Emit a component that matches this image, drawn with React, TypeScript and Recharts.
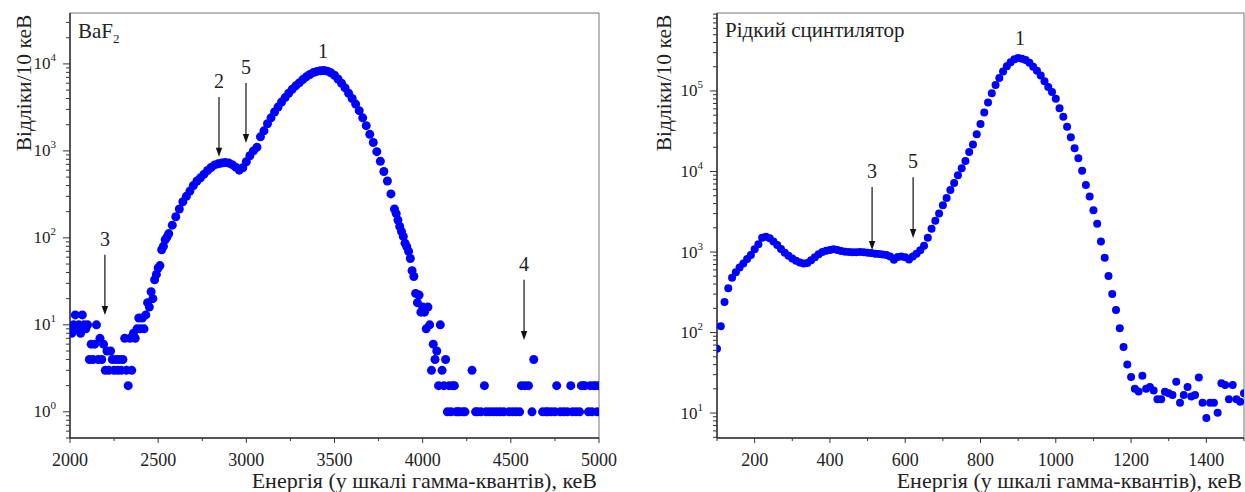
import React from 'react';
import {
  ScatterChart,
  Scatter,
  XAxis,
  YAxis,
  ReferenceLine,
  ReferenceDot,
  ReferenceArea,
} from 'recharts';

const FONT = "'Liberation Serif', 'DejaVu Serif', 'Noto Serif', serif";

// ---------------- BaF2 spectrum (energy keV, counts / 10 keV) ----------------
const bafLow: [number, number][] = [
  [2000, 9], [2010, 8], [2020, 10], [2030, 13], [2040, 9], [2050, 10], [2060, 8], [2070, 13],
  [2080, 10], [2090, 9], [2100, 10], [2110, 4], [2120, 6], [2130, 4], [2140, 6], [2150, 10],
  [2160, 4], [2170, 7], [2180, 4], [2190, 6], [2200, 3], [2210, 5], [2220, 3], [2230, 5],
  [2240, 4], [2250, 3], [2260, 4], [2270, 3], [2280, 4], [2290, 3], [2300, 4], [2310, 7],
  [2320, 3], [2330, 2], [2340, 7], [2350, 3], [2360, 8], [2370, 7], [2380, 9], [2390, 12],
  [2400, 9], [2410, 12], [2420, 9], [2430, 13], [2440, 18], [2450, 16], [2460, 24], [2470, 20],
  [2480, 33], [2490, 38], [2500, 45], [2510, 48], [2520, 73], [2530, 80], [2540, 95], [2550, 102],
];

const bafMain: [number, number][] = [
  [2560, 112], [2580, 140], [2600, 175], [2620, 215], [2640, 260], [2660, 300], [2680, 345],
  [2700, 400], [2720, 450], [2740, 490], [2760, 540], [2780, 595], [2800, 645], [2820, 690],
  [2840, 710], [2860, 725], [2880, 735], [2900, 725], [2920, 695], [2940, 650], [2960, 600],
  [2980, 640], [3000, 750], [3020, 880], [3040, 1000], [3060, 1100], [3080, 1450], [3100, 1700],
  [3120, 2050], [3140, 2400], [3160, 2800], [3180, 3200], [3200, 3650], [3220, 4100], [3240, 4600],
  [3260, 5100], [3280, 5600], [3300, 6050], [3320, 6600], [3340, 7100], [3360, 7550], [3380, 7950],
  [3400, 8200], [3420, 8350], [3440, 8400], [3460, 8250], [3480, 7900], [3500, 7400], [3520, 6700],
  [3540, 6000], [3560, 5300], [3580, 4600], [3600, 4000], [3620, 3450], [3640, 2900], [3660, 2400],
  [3680, 1950], [3700, 1550], [3720, 1250], [3740, 980], [3760, 760], [3780, 580], [3800, 450],
  [3820, 320], [3840, 215],
];

const bafTail: [number, number][] = [
  [3850, 190], [3860, 160], [3870, 135], [3880, 118], [3890, 104], [3900, 87], [3910, 79],
  [3920, 70], [3930, 58], [3940, 42], [3950, 36], [3960, 23], [3970, 18], [3980, 22], [3990, 14],
  [4000, 16], [4010, 14], [4020, 9], [4030, 16], [4040, 10], [4050, 3], [4060, 6], [4070, 4],
  [4080, 5], [4090, 2], [4100, 10], [4110, 3], [4120, 2], [4130, 4], [4140, 1], [4150, 2],
  [4160, 1], [4170, 2], [4180, 2], [4190, 1], [4200, 1], [4210, 1], [4230, 1], [4240, 1],
  [4280, 3], [4300, 1], [4310, 1], [4330, 1], [4350, 2], [4360, 1], [4380, 1], [4400, 1],
  [4420, 1], [4440, 1], [4460, 1], [4490, 1], [4510, 1], [4530, 1], [4550, 1], [4560, 2],
  [4580, 2], [4600, 2], [4620, 1], [4630, 4], [4680, 1], [4700, 1], [4710, 1], [4730, 1],
  [4750, 1], [4760, 2], [4780, 1], [4800, 1], [4820, 1], [4840, 2], [4850, 1], [4870, 1],
  [4890, 1], [4900, 2], [4910, 2], [4920, 2], [4940, 1], [4950, 2], [4960, 1], [4970, 2],
  [4980, 2], [4990, 1], [5000, 2],
];

// ---------------- Liquid scintillator spectrum ----------------
const lsContinuum: [number, number][] = [
  [100, 63], [110, 120], [120, 240], [130, 355], [140, 480], [150, 560], [160, 640], [170, 720],
  [180, 820], [190, 920], [200, 1080], [210, 1250], [220, 1500], [230, 1550], [240, 1480],
  [250, 1350], [260, 1220], [270, 1090], [280, 980], [290, 900], [300, 830], [310, 780],
  [320, 740], [330, 720], [340, 730], [350, 790], [360, 860], [370, 940], [380, 1000],
  [390, 1040], [400, 1060], [410, 1080], [420, 1060], [430, 1030], [440, 1010], [450, 1000],
  [460, 990], [470, 990], [480, 1000], [490, 990], [500, 980], [510, 970], [520, 950],
  [530, 945], [540, 930], [550, 920], [560, 880], [570, 800], [580, 870], [590, 880],
  [600, 860], [610, 810], [620, 880], [630, 950], [640, 1050], [650, 1200],
];

const lsPeak: [number, number][] = [
  [660, 1500], [670, 1950], [680, 2450], [690, 3000], [700, 3800], [710, 4700], [720, 5900],
  [730, 7200], [740, 9000], [750, 11000], [760, 13500], [770, 17500], [780, 21700], [790, 29000],
  [800, 39000], [810, 54000], [820, 72000], [830, 94000], [840, 119000], [850, 145000],
  [860, 175000], [870, 203000], [880, 228000], [890, 247000], [900, 256000], [910, 252000],
  [920, 242000], [930, 224000], [940, 200000], [950, 178000], [960, 156000], [970, 132000],
  [980, 112000], [990, 97000], [1000, 80000], [1010, 61000], [1020, 48000], [1030, 36000],
  [1040, 26600], [1050, 19500], [1060, 14600], [1070, 10200], [1080, 6800], [1090, 4900],
  [1100, 3300], [1110, 2250], [1120, 1350], [1130, 850], [1140, 505], [1150, 300], [1160, 190],
  [1170, 113], [1180, 66], [1190, 40], [1200, 28],
];

const lsTail: [number, number][] = [
  [1210, 20], [1220, 18.5], [1230, 29], [1240, 20], [1250, 21], [1260, 19], [1270, 14.8],
  [1280, 14.8], [1290, 18.4], [1300, 17.6], [1310, 16.7], [1320, 24.5], [1330, 13.4],
  [1340, 16.7], [1350, 21], [1360, 16], [1370, 16.7], [1380, 27.7], [1390, 13.4], [1400, 8.7],
  [1410, 13.4], [1420, 13.4], [1430, 10.1], [1440, 23.5], [1450, 22.3], [1460, 14.8],
  [1470, 22.3], [1480, 14.8], [1490, 13.8], [1500, 17.6],
];

// ---------------- axes ----------------
const bafXTicks = [2000, 2250, 2500, 2750, 3000, 3250, 3500, 3750, 4000, 4250, 4500, 4750, 5000];
const lsXTicks = [100, 200, 300, 400, 500, 600, 700, 800, 900, 1000, 1100, 1200, 1300, 1400, 1500];
const bafYDecades = [0.1, 1, 10, 100, 1000, 10000];
const lsYDecades = [1, 10, 100, 1000, 10000, 100000];
const minorMultipliers = [1, 2, 3, 4, 5, 6, 7, 8, 9];
const bafYDomain: [number, number] = [0.5, 38500];
const lsYDomain: [number, number] = [4.9, 930000];

const buildLogTicks = (decades: number[], domain: [number, number]) => {
  const out: number[] = [];
  decades.forEach((d) => minorMultipliers.forEach((m) => {
    const v = Number((d * m).toPrecision(6));
    if (v >= domain[0] && v <= domain[1]) out.push(v);
  }));
  return out;
};

// ---------------- annotations ----------------
const bafArrows = [
  { label: '3', x: 2198, top: 64, tip: 13 },
  { label: '2', x: 2845, top: 4170, tip: 855 },
  { label: '5', x: 2998, top: 6050, tip: 1235 },
  { label: '4', x: 4575, top: 33, tip: 6.7 },
];
const bafPeakLabels = [{ label: '1', x: 3435, y: 11700 }];
const lsArrows = [
  { label: '3', x: 512, top: 6410, tip: 1060 },
  { label: '5', x: 621, top: 8500, tip: 1490 },
];
const lsPeakLabels = [{ label: '1', x: 905, y: 372000 }];

const toPts = (arr: [number, number][]) => arr.map(([x, y]) => ({ x, y }));
const bafData = [...toPts(bafLow), ...toPts(bafMain), ...toPts(bafTail)];
const lsData = [...toPts(lsContinuum), ...toPts(lsPeak), ...toPts(lsTail)];

const AXIS = '#333';
const TXT = '#222';
const txtStyle = { fontFamily: FONT };

const isDecade = (v: number) => Math.abs(Math.log10(v) - Math.round(Math.log10(v))) < 1e-6;

const LogYTick = (props: any) => {
  const { x, y, payload } = props;
  const v = payload.value;
  const major = isDecade(v);
  const e = Math.round(Math.log10(v));
  return (
    <g>
      <line x1={x} x2={x - (major ? 7 : 4)} y1={y} y2={y} stroke={AXIS} strokeWidth={1} />
      {major && (
        <text x={x - 14} y={y + 5.5} textAnchor="end" style={txtStyle} fontSize={17} fill={TXT}>
          10
          <tspan dy={-8} fontSize={11}>{e}</tspan>
        </text>
      )}
    </g>
  );
};

const makeXTick = (step: number) => (props: any) => {
  const { x, y, payload } = props;
  const v = payload.value;
  const major = v % step === 0;
  return (
    <g>
      <line x1={x} x2={x} y1={y} y2={y + (major ? 5 : 3)} stroke={AXIS} strokeWidth={1} />
      {major && (
        <text x={x} y={y + 28} textAnchor="middle" style={txtStyle} fontSize={18} fill={TXT}>
          {v}
        </text>
      )}
    </g>
  );
};

const arrowShape = (label: string) => (p: any) => {
  const { x1, y1, x2, y2 } = p;
  const head = 9;
  const half = 3.2;
  return (
    <g>
      <line x1={x1} y1={y1} x2={x2} y2={y2 - head + 1} stroke="#111" strokeWidth={1.2} />
      <polygon points={`${x2},${y2} ${x2 - half},${y2 - head} ${x2 + half},${y2 - head}`} fill="#111" />
      <text x={x1} y={y1 - 9} textAnchor="middle" style={txtStyle} fontSize={20} fill={TXT}>
        {label}
      </text>
    </g>
  );
};

const peakLabelShape = (label: string) => (p: any) => (
  <text x={p.cx} y={p.cy} textAnchor="middle" style={txtStyle} fontSize={20} fill={TXT}>
    {label}
  </text>
);

const yTitle = (cx: number) => () => (
  <text
    x={cx}
    y={83}
    transform={`rotate(-90 ${cx} 83)`}
    textAnchor="middle"
    dominantBaseline="central"
    style={txtStyle}
    fontSize={21.5}
    fill={TXT}
  >
    Відліки/10 кеВ
  </text>
);

const xTitle = (right: number) => () => (
  <text x={right} y={488} textAnchor="end" style={txtStyle} fontSize={22} fill={TXT}>
    Енергія (у шкалі гамма-квантів), кеВ
  </text>
);

const dotShape = (r: number) => (p: any) => <circle cx={p.cx} cy={p.cy} r={r} fill="#0000ff" />;

export default function App() {
  const bafYTicks = buildLogTicks(bafYDecades, bafYDomain);
  const lsYTicks = buildLogTicks(lsYDecades, lsYDomain);
  return (
    <div style={{ position: 'absolute', left: 0, top: 0, width: 1245, height: 492, background: '#fff', fontFamily: FONT }}>
      <div style={{ position: 'absolute', left: 0, top: 0 }}>
        <ScatterChart width={620} height={492} margin={{ top: 13, right: 21, bottom: 0, left: 0 }} style={txtStyle}>
          <ReferenceArea
            x1={2000}
            x2={5000}
            y1={bafYDomain[0]}
            y2={bafYDomain[1]}
            fill="none"
            fillOpacity={0}
            stroke="#777"
            strokeWidth={1}
            ifOverflow="visible"
            label={() => (
              <text x={78} y={37.5} style={txtStyle} fontSize={21} fill={TXT}>
                BaF
                <tspan dy={5} fontSize={13}>2</tspan>
              </text>
            )}
          />
          <XAxis
            type="number"
            dataKey="x"
            domain={[2000, 5000]}
            ticks={bafXTicks}
            interval={0}
            tickSize={0}
            tickMargin={0}
            height={54}
            tick={makeXTick(500)}
            axisLine={{ stroke: AXIS, strokeWidth: 1.5 }}
            tickLine={false}
            allowDataOverflow
            label={xTitle(597)}
          />
          <YAxis
            type="number"
            dataKey="y"
            scale="log"
            domain={bafYDomain}
            ticks={bafYTicks}
            interval={0}
            tickSize={0}
            tickMargin={0}
            width={70}
            tick={<LogYTick />}
            axisLine={{ stroke: AXIS, strokeWidth: 1.5 }}
            tickLine={false}
            allowDataOverflow
            label={yTitle(24)}
          />
          <Scatter data={bafData} isAnimationActive={false} shape={dotShape(4.5)} />
          {bafArrows.map((a) => (
            <ReferenceLine
              key={a.label}
              segment={[{ x: a.x, y: a.top }, { x: a.x, y: a.tip }]}
              shape={arrowShape(a.label)}
              ifOverflow="visible"
            />
          ))}
          {bafPeakLabels.map((l) => (
            <ReferenceDot key={l.label} x={l.x} y={l.y} r={0} shape={peakLabelShape(l.label)} ifOverflow="visible" />
          ))}
        </ScatterChart>
      </div>
      <div style={{ position: 'absolute', left: 625, top: 0 }}>
        <ScatterChart width={620} height={492} margin={{ top: 13, right: 1, bottom: 0, left: 0 }} style={txtStyle}>
          <ReferenceArea
            x1={100}
            x2={1500}
            y1={lsYDomain[0]}
            y2={lsYDomain[1]}
            fill="none"
            fillOpacity={0}
            stroke="#777"
            strokeWidth={1}
            ifOverflow="visible"
            label={() => (
              <text x={100} y={37} style={txtStyle} fontSize={21} fill={TXT}>
                Рідкий сцинтилятор
              </text>
            )}
          />
          <XAxis
            type="number"
            dataKey="x"
            domain={[100, 1500]}
            ticks={lsXTicks}
            interval={0}
            tickSize={0}
            tickMargin={0}
            height={54}
            tick={makeXTick(200)}
            axisLine={{ stroke: AXIS, strokeWidth: 1.5 }}
            tickLine={false}
            allowDataOverflow
            label={xTitle(617)}
          />
          <YAxis
            type="number"
            dataKey="y"
            scale="log"
            domain={lsYDomain}
            ticks={lsYTicks}
            interval={0}
            tickSize={0}
            tickMargin={0}
            width={92}
            tick={<LogYTick />}
            axisLine={{ stroke: AXIS, strokeWidth: 1.5 }}
            tickLine={false}
            allowDataOverflow
            label={yTitle(39)}
          />
          <Scatter data={lsData} isAnimationActive={false} shape={dotShape(4)} />
          {lsArrows.map((a) => (
            <ReferenceLine
              key={a.label}
              segment={[{ x: a.x, y: a.top }, { x: a.x, y: a.tip }]}
              shape={arrowShape(a.label)}
              ifOverflow="visible"
            />
          ))}
          {lsPeakLabels.map((l) => (
            <ReferenceDot key={l.label} x={l.x} y={l.y} r={0} shape={peakLabelShape(l.label)} ifOverflow="visible" />
          ))}
        </ScatterChart>
      </div>
    </div>
  );
}
